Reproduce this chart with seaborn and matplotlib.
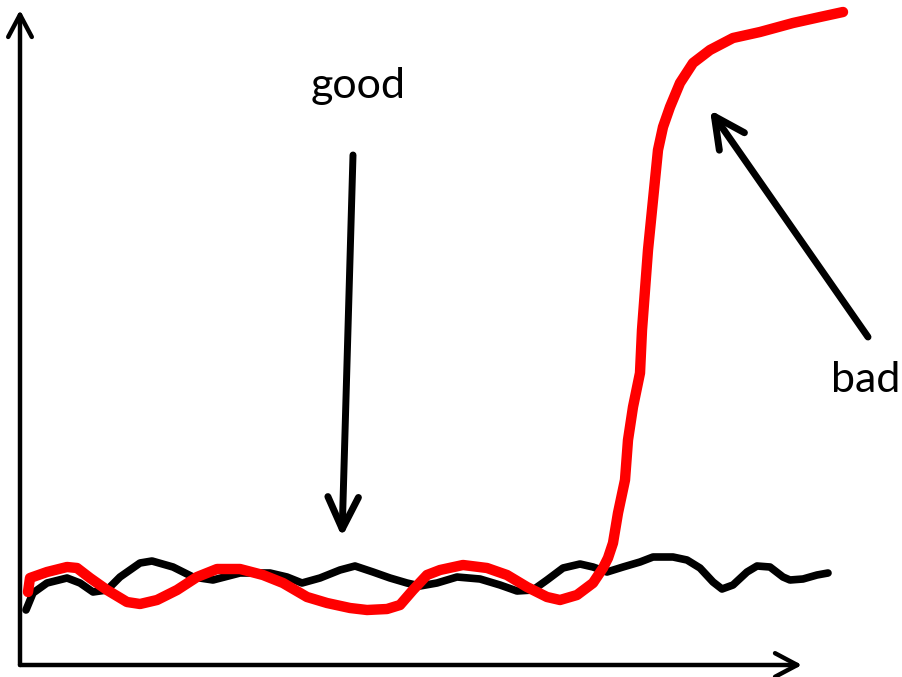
import pandas as pd
import matplotlib.pyplot as plt
import seaborn as sns
from matplotlib.patches import FancyArrowPatch

# Sketch traced in picture units (x to the right, y downward)
black_x = [26, 33, 47, 67, 80, 93, 107, 120, 140, 152, 173, 193, 213, 240, 270, 287,
           302, 320, 340, 355, 373, 390, 407, 420, 437, 457, 480, 500, 517, 533, 547,
           563, 580, 593, 607, 623, 640, 653, 673, 687, 700, 713, 722, 733, 747, 757,
           770, 783, 790, 803, 817, 828]
black_y = [610, 593, 583, 578, 583, 592, 590, 577, 563, 561, 567, 577, 580, 573, 573, 577,
           583, 578, 570, 566, 572, 578, 583, 586, 583, 577, 579, 585, 591, 590, 580,
           568, 564, 567, 572, 567, 562, 557, 557, 560, 568, 582, 589, 585, 572, 566,
           567, 577, 580, 579, 575, 573]

red_x = [28, 30, 47, 67, 77, 90, 107, 127, 140, 157, 177, 197, 217, 240, 263, 283,
         307, 327, 350, 367, 387, 400, 413, 427, 440, 463, 487, 507, 527, 547, 560,
         577, 593, 603, 608, 613, 618, 625, 628, 633, 640, 642, 645, 648, 653, 658,
         663, 670, 680, 693, 710, 733, 760, 793, 820, 843]
red_y = [592, 578, 572, 567, 568, 578, 590, 602, 604, 600, 590, 577, 569, 569, 575, 583,
         597, 603, 608, 610, 609, 605, 590, 575, 570, 565, 568, 575, 587, 597, 600,
         595, 583, 568, 558, 543, 513, 480, 440, 407, 373, 330, 290, 250, 200, 150,
         127, 107, 83, 63, 50, 38, 32, 23, 17, 12]

# Axis arrows and pointer arrows: (start, tip)
y_axis = [(20, 665), (20, 10)]
x_axis = [(20, 665), (802, 665)]
good_arrow = [(353, 155), (342, 537)]
bad_arrow = [(868, 337), (710, 110)]

labels = ["good", "bad"]
label_pos = [(358, 98), (866, 392)]

black = pd.DataFrame({"x": black_x, "y": black_y})
red = pd.DataFrame({"x": red_x, "y": red_y})

sns.set_style("white")
plt.rcParams["font.family"] = ["Lato", "DejaVu Sans"]

fig = plt.figure(figsize=(9.03, 6.77), dpi=100)
ax = fig.add_axes([0, 0, 1, 1])
ax.set_xlim(0, 903)
ax.set_ylim(677, 0)
ax.axis("off")

sns.lineplot(data=black, x="x", y="y", sort=False, estimator=None, color="black",
             linewidth=5.5, ax=ax, solid_capstyle="round", solid_joinstyle="round")
sns.lineplot(data=red, x="x", y="y", sort=False, estimator=None, color="#ff0000",
             linewidth=7.5, ax=ax, solid_capstyle="round", solid_joinstyle="round")


def draw_arrow(pts, lw, hl, hw):
    arr = FancyArrowPatch(pts[0], pts[1],
                          arrowstyle=f"->,head_length={hl},head_width={hw}",
                          mutation_scale=1, color="black", linewidth=lw,
                          capstyle="round", joinstyle="round",
                          shrinkA=0, shrinkB=0)
    ax.add_patch(arr)


draw_arrow(y_axis, 3.2, 16, 8.5)
draw_arrow(x_axis, 3.2, 16, 8.5)
draw_arrow(good_arrow, 5, 23, 11)
draw_arrow(bad_arrow, 5, 22, 11)

for txt, (tx, ty) in zip(labels, label_pos):
    ax.text(tx, ty, txt, ha="center", va="baseline", fontsize=31, color="black")

fig.savefig("out.png", dpi=100)
